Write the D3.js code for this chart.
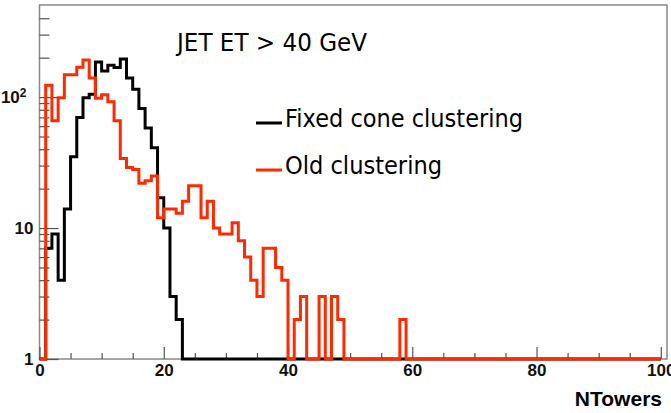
<!DOCTYPE html>
<html>
<head>
<meta charset="utf-8">
<script src="https://cdn.jsdelivr.net/npm/d3@7"></script>
<style>
    body { margin: 0; background: white; }
</style>
</head>
<body>
<div id="chart-container"></div>
<script>
// bin contents, one per unit bin [k, k+1), k = 0..99
const fixedCone = [
    0, 7, 9, 4, 14, 35, 70, 99, 105, 185,
    158, 175, 168, 195, 140, 115, 82, 58, 41, 17,
    10, 3, 2, 0, 0, 0, 0, 0, 0, 0,
    0, 0, 0, 0, 0, 0, 0, 0, 0, 0,
    0, 0, 0, 0, 0, 0, 0, 0, 0, 0,
    0, 0, 0, 0, 0, 0, 0, 0, 0, 0,
    0, 0, 0, 0, 0, 0, 0, 0, 0, 0,
    0, 0, 0, 0, 0, 0, 0, 0, 0, 0,
    0, 0, 0, 0, 0, 0, 0, 0, 0, 0,
    0, 0, 0, 0, 0, 0, 0, 0, 0, 0
]
const oldClustering = [
    0, 123, 66, 99, 148, 148, 169, 192, 140, 98,
    104, 92, 66, 34, 29, 28, 22, 23, 25, 12,
    14, 14, 13, 16, 21, 21, 12, 16, 10, 9,
    9, 11, 8, 6, 4, 3, 7, 7, 5, 4,
    0, 2, 3, 0, 0, 3, 0, 3, 2, 0,
    0, 0, 0, 0, 0, 0, 0, 0, 2, 0,
    0, 0, 0, 0, 0, 0, 0, 0, 0, 0,
    0, 0, 0, 0, 0, 0, 0, 0, 0, 0,
    0, 0, 0, 0, 0, 0, 0, 0, 0, 0,
    0, 0, 0, 0, 0, 0, 0, 0, 0, 0
]
const xMajorTicks = [0, 20, 40, 60, 80, 100]
const xMinorTicks = [5, 10, 15, 25, 30, 35, 45, 50, 55, 65, 70, 75, 85, 90, 95]
const yMajorTicks = [1, 10, 100]
const yTickLabels = ["1", "10", "10"]
const yTickExponents = ["", "", "2"]
const yMinorTicks = [2, 3, 4, 5, 6, 7, 8, 9, 20, 30, 40, 50, 60, 70, 80, 90, 200, 300, 400]
const seriesNames = ["Fixed cone clustering", "Old clustering"]
const seriesColors = ["#000000", "#ff2a00"]

const width = 671
const height = 413
const margin = { top: 5, bottom: 54, left: 39.5, right: 4 }

/* SCALES */
const xScale = d3.scaleLinear()
    .domain([0, 101])
    .range([margin.left, width - margin.right])

const yScale = d3.scaleLog()
    .domain([1, 505])
    .range([height - margin.bottom, margin.top])

/* SVG */
const svg = d3.select('#chart-container')
    .append("svg")
    .attr("width", width)
    .attr("height", height)
    .style("background-color", "white")

const bottom = height - margin.bottom

// frame
svg.append("rect")
    .attr("x", xScale(0))
    .attr("y", margin.top)
    .attr("width", xScale(101) - xScale(0))
    .attr("height", bottom - margin.top)
    .attr("fill", "none")
    .attr("stroke", "#888")
    .attr("stroke-width", 1.5)

// AXES
const styleAxis = g => {
    g.select(".domain").remove()
    g.selectAll(".tick line").attr("stroke", "#555").attr("stroke-width", 1.2)
    g.selectAll(".tick text")
        .attr("fill", "#111")
        .style("font-family", "'Liberation Sans', Arial, sans-serif")
        .style("font-weight", "bold")
        .style("font-size", "17px")
}

svg.append("g")
    .attr("transform", `translate(0, ${bottom})`)
    .call(d3.axisBottom(xScale).tickValues(xMajorTicks).tickSize(-12).tickPadding(5).tickFormat(d3.format("d")))
    .call(styleAxis)

svg.append("g")
    .attr("transform", `translate(0, ${bottom})`)
    .call(d3.axisBottom(xScale).tickValues(xMinorTicks).tickSize(-6).tickFormat(""))
    .call(styleAxis)

const yAxisGroup = svg.append("g")
    .attr("transform", `translate(${margin.left}, 0)`)
    .call(d3.axisLeft(yScale).tickValues(yMajorTicks).tickSize(-19).tickPadding(6)
        .tickFormat((d, i) => yTickLabels[i]))
    .call(styleAxis)

// superscript exponent on 10^2
yAxisGroup.selectAll(".tick text")
    .filter((d, i) => yTickExponents[i] !== "")
    .attr("x", -13)
    .append("tspan")
    .attr("dy", "-0.5em")
    .style("font-size", "12px")
    .text((d, i) => yTickExponents[yMajorTicks.indexOf(d)])

svg.append("g")
    .attr("transform", `translate(${margin.left}, 0)`)
    .call(d3.axisLeft(yScale).tickValues(yMinorTicks).tickSize(-10).tickFormat(""))
    .call(styleAxis)

// HISTOGRAMS
const stepLine = d3.line()
    .x(d => xScale(d.x))
    .y(d => yScale(Math.max(d.v, 1)))
    .curve(d3.curveStepAfter)

const toPoints = counts => {
    const pts = counts.map((v, k) => ({ x: k, v: v }))
    pts.push({ x: counts.length, v: 0 })
    return pts
}

const series = [fixedCone, oldClustering]

svg.selectAll("path.hist")
    .data(series)
    .join("path")
    .attr("class", "hist")
    .attr("d", d => stepLine(toPoints(d)))
    .attr("fill", "none")
    .attr("stroke", (d, i) => seriesColors[i])
    .attr("stroke-width", 3)

// TEXT
const comic = "'DejaVu Sans', sans-serif"

svg.append("text")
    .attr("x", 177)
    .attr("y", 51)
    .attr("textLength", 190)
    .attr("lengthAdjust", "spacingAndGlyphs")
    .style("font-family", comic)
    .style("font-size", "24px")
    .text("JET ET > 40 GeV")

const legendY = [123, 170]
const legendLen = [238, 157]

const legend = svg.selectAll("g.legend")
    .data(seriesNames)
    .join("g")
    .attr("class", "legend")
    .attr("transform", (d, i) => `translate(256, ${legendY[i]})`)

legend.append("line")
    .attr("x1", 0)
    .attr("x2", 26)
    .attr("stroke", (d, i) => seriesColors[i])
    .attr("stroke-width", 3)

legend.append("text")
    .attr("x", 29)
    .attr("y", 4)
    .attr("textLength", (d, i) => legendLen[i])
    .attr("lengthAdjust", "spacingAndGlyphs")
    .style("font-family", comic)
    .style("font-size", "24px")
    .text(d => d)

svg.append("text")
    .attr("x", 662)
    .attr("y", 406)
    .attr("text-anchor", "end")
    .style("font-family", "'Liberation Sans', Arial, sans-serif")
    .style("font-weight", "bold")
    .style("font-size", "21px")
    .text("NTowers")
</script>
</body>
</html>
